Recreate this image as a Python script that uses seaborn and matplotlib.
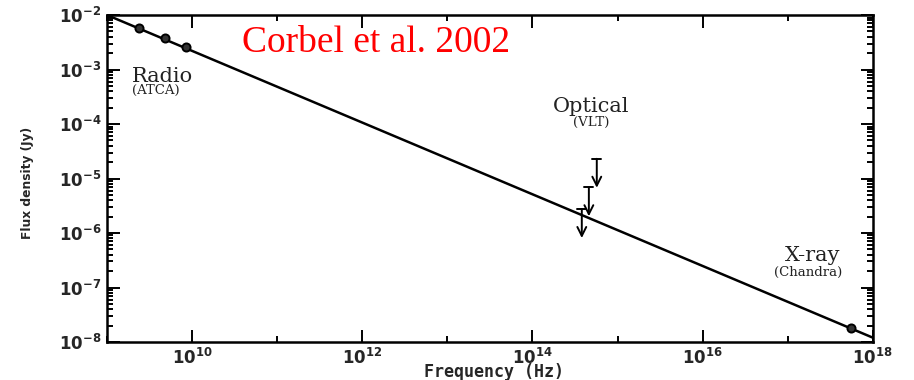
import numpy as np
import pandas as pd
import matplotlib
matplotlib.use("Agg")
import matplotlib.pyplot as plt
import matplotlib.ticker as mticker
import seaborn as sns

# Radio detections (ATCA) and X-ray detection (Chandra)
radio_freq = [2.4e9, 4.8e9, 8.6e9]
radio_flux = [5.7e-3, 3.8e-3, 2.6e-3]
xray_freq = [5.5e17]
xray_flux = [1.8e-8]

# Optical upper limits (VLT)
opt_freq = [5.7e14, 4.6e14, 3.8e14]
opt_limit = [2.3e-5, 6.9e-6, 2.75e-6]

# Power-law fit across the spectrum
fit_freq = [1e9, 1e18]
fit_flux = [1e-2, 1.2e-8]

sns.set_theme(style="ticks")
plt.rcParams["font.family"] = ["DejaVu Sans"]

fig = plt.figure(figsize=(9.14, 3.8), dpi=100)
ax = fig.add_axes([0.117, 0.1, 0.838, 0.8605])

sns.lineplot(x=fit_freq, y=fit_flux, ax=ax, color="black", lw=1.8)
sns.scatterplot(x=radio_freq + xray_freq, y=radio_flux + xray_flux, ax=ax,
                color="#333333", s=34, marker="o", edgecolor="black",
                linewidth=1.4, zorder=5)

# Upper limits: cap at the limit and an arrow pointing down
for f, lim in zip(opt_freq, opt_limit):
    ax.plot([f / 1.13, f * 1.13], [lim, lim], color="black", lw=1.4)
    ax.annotate("", xy=(f, lim / 3.4), xytext=(f, lim),
                arrowprops=dict(arrowstyle="->", color="black", lw=1.4,
                                mutation_scale=16, shrinkA=0, shrinkB=0))

ax.set_xscale("log")
ax.set_yscale("log")
ax.set_xlim(1e9, 1e18)
ax.set_ylim(1e-8, 1e-2)

ax.xaxis.set_major_locator(mticker.LogLocator(base=100.0, numticks=20))
ax.xaxis.set_minor_locator(mticker.FixedLocator([1e9 * 10 ** k for k in range(0, 10, 2)]))
ax.yaxis.set_major_locator(mticker.LogLocator(base=10.0, numticks=20))
ax.yaxis.set_minor_locator(mticker.LogLocator(base=10.0, subs=np.arange(2, 10), numticks=20))
ax.xaxis.set_minor_formatter(mticker.NullFormatter())
ax.yaxis.set_minor_formatter(mticker.NullFormatter())

ax.tick_params(which="both", direction="in", top=True, right=True, width=1.4,
               color="black")
ax.tick_params(which="major", length=9, labelsize=12, pad=4)
ax.tick_params(which="minor", length=4.5)
for lab in ax.get_xticklabels() + ax.get_yticklabels():
    lab.set_fontweight("bold")
for sp in ax.spines.values():
    sp.set_linewidth(1.8)
    sp.set_color("black")

ax.set_xlabel("Frequency (Hz)", fontsize=12, fontweight="bold",
              family="DejaVu Sans Mono", va="center")
ax.xaxis.set_label_coords(0.505, -0.093)
ax.set_ylabel("Flux density (Jy)", fontsize=8.8, fontweight="heavy", va="center")
ax.yaxis.set_label_coords(-0.104, 0.486)

serif = "DejaVu Serif"
ink = "#222222"
ax.text(1.96e9, 10 ** -3.12, "Radio", fontsize=15, family=serif, color=ink,
        ha="left", va="center")
ax.text(1.96e9, 10 ** -3.39, "(ATCA)", fontsize=9.5, family=serif, color=ink,
        ha="left", va="center")
ax.text(4.9e14, 10 ** -3.67, "Optical", fontsize=15, family=serif, color=ink,
        ha="center", va="center")
ax.text(4.9e14, 10 ** -3.97, "(VLT)", fontsize=9.5, family=serif, color=ink,
        ha="center", va="center")
ax.text(1.95e17, 10 ** -6.42, "X-ray", fontsize=15, family=serif, color=ink,
        ha="center", va="center")
ax.text(1.75e17, 10 ** -6.73, "(Chandra)", fontsize=9.5, family=serif, color=ink,
        ha="center", va="center")

fig.text(0.411, 0.887, "Corbel et al. 2002", fontsize=27, family="Liberation Serif",
         color="#ff0000", ha="center", va="center")

fig.savefig("out.png", dpi=100)
